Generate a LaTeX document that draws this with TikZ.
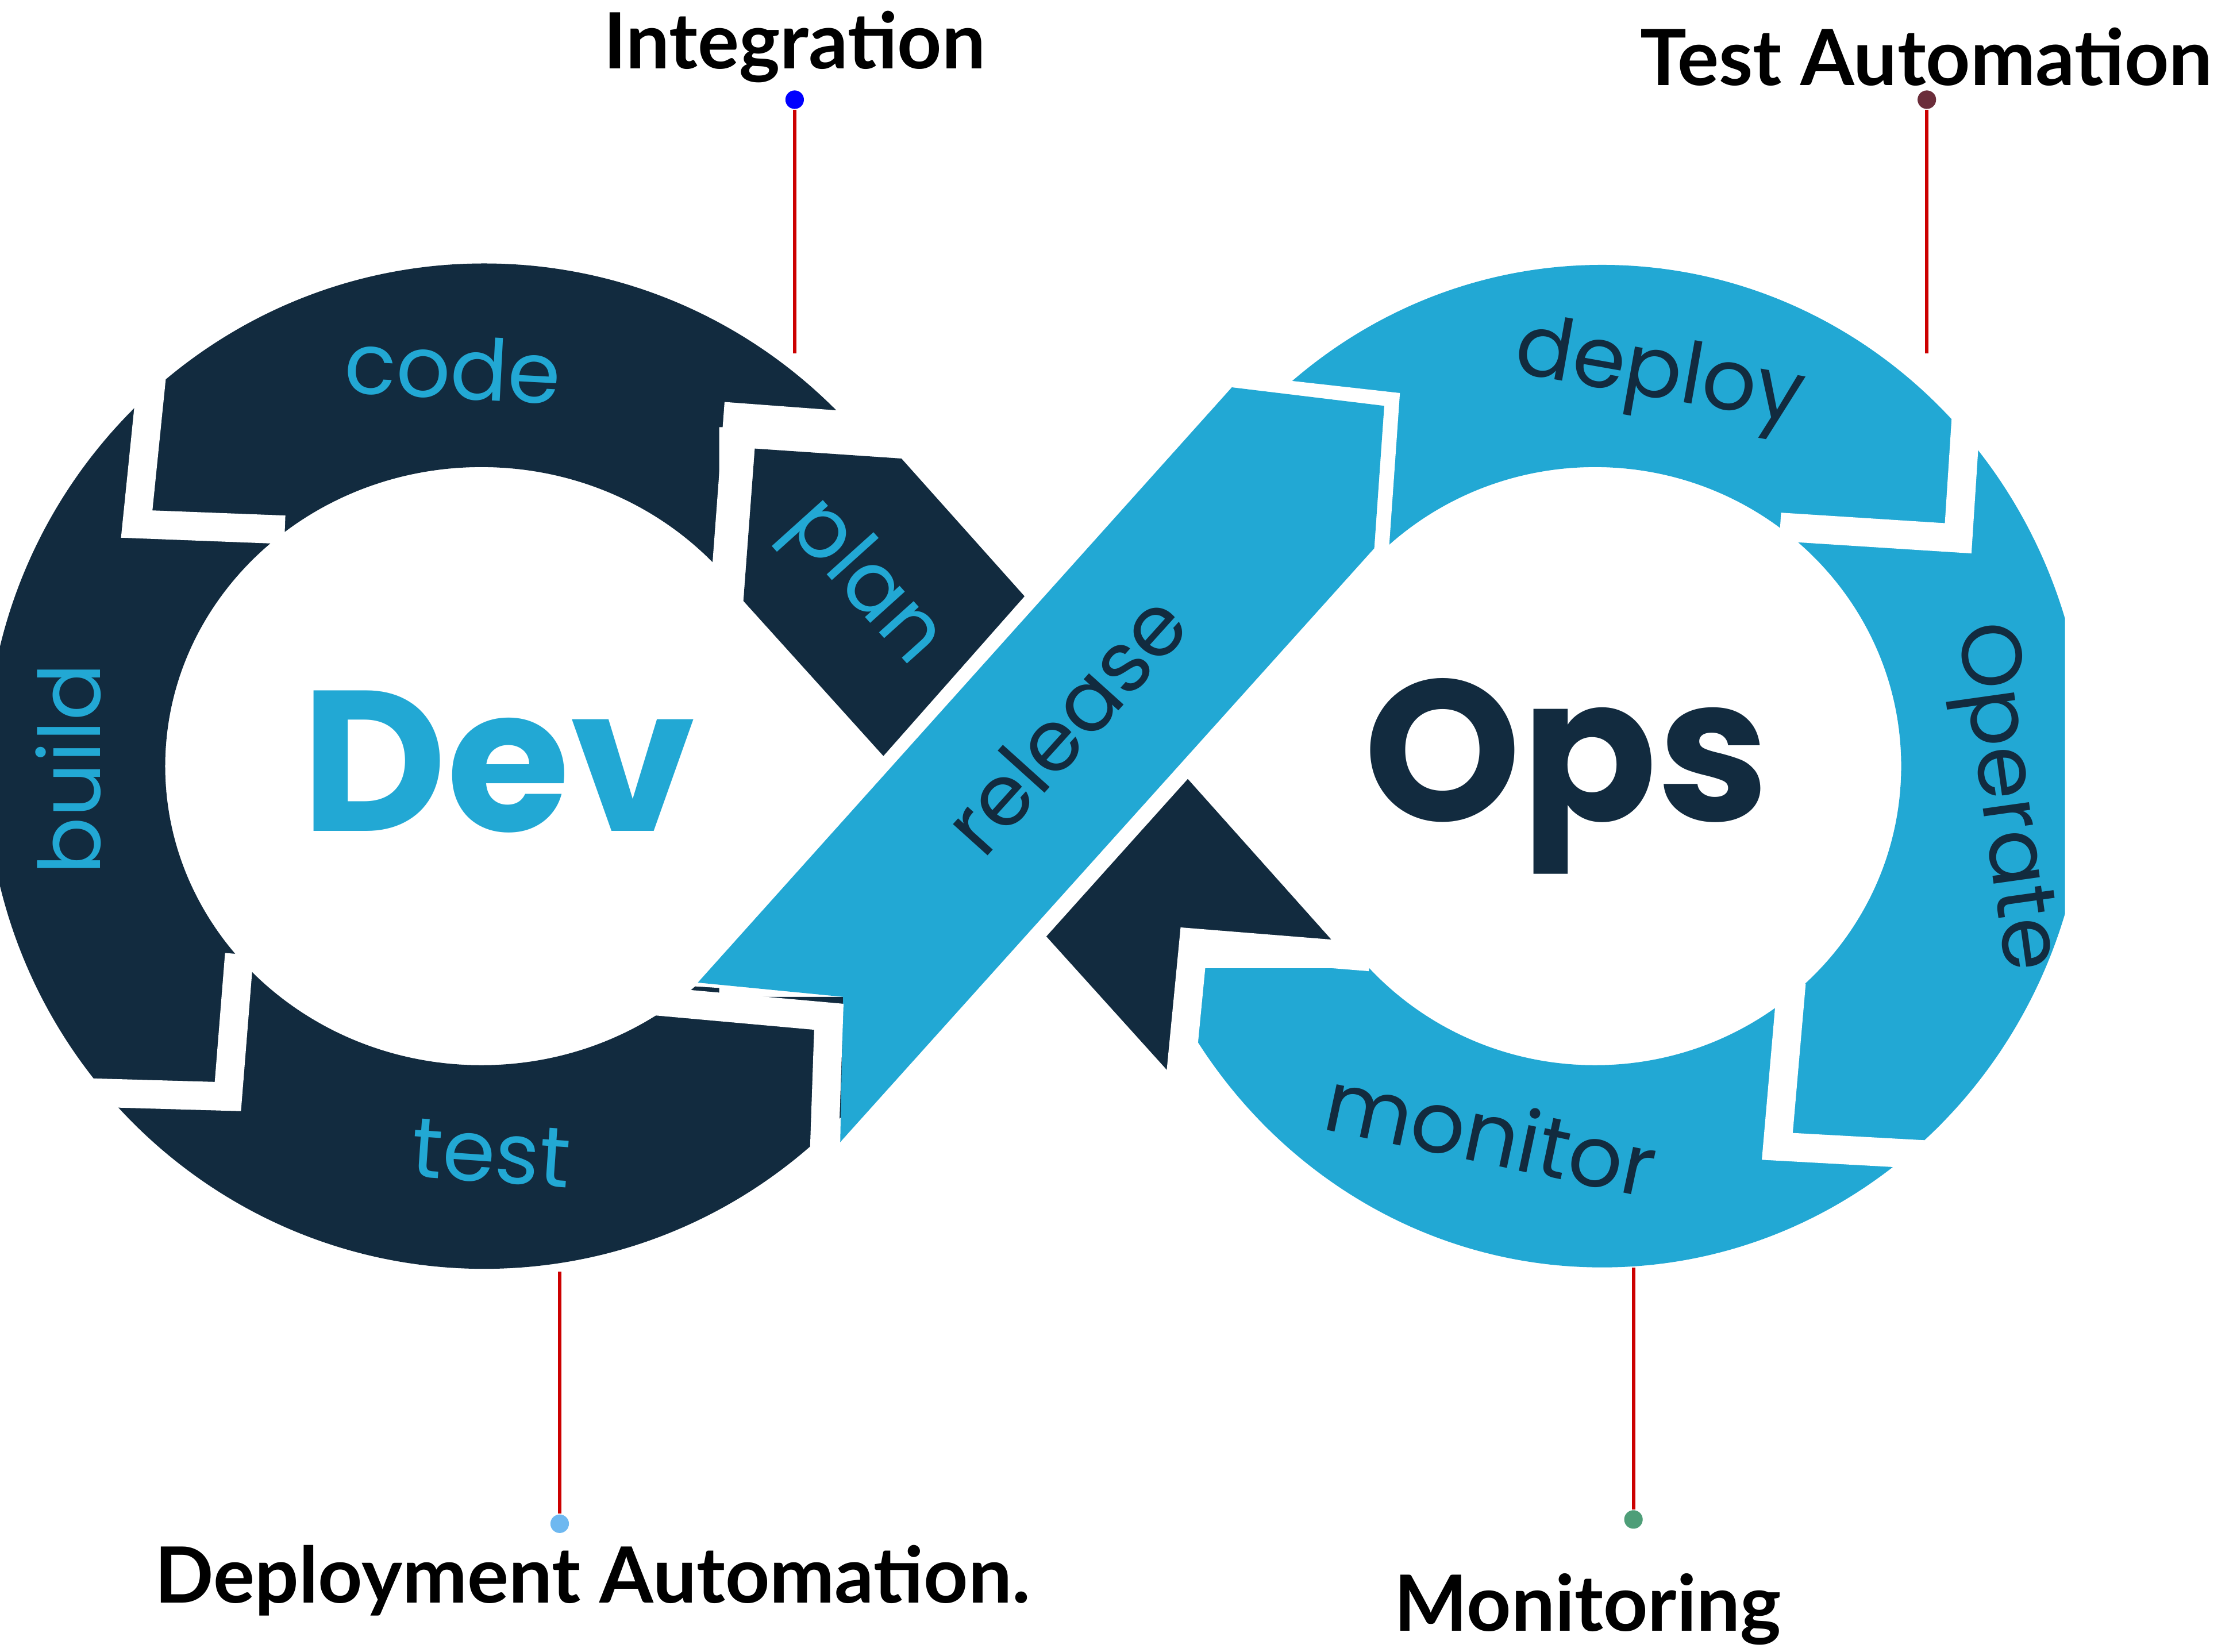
\documentclass[tikz,border=0pt]{standalone}
\usepackage{fontspec}
\setmainfont{Poppins}
\newfontfamily\lbl{Lato}
\definecolor{navy}{HTML}{122B3F}
\definecolor{cyanb}{HTML}{22A8D4}
\begin{document}
\begin{tikzpicture}[x=0.1mm,y=-0.1mm,
 gap/.style={white,line width=2mm,line join=miter},
 seg/.style={font=\fontsize{17}{17}\selectfont},
 pin/.style={red!80!black,line width=0.25mm},
 lab/.style={font=\lbl\bfseries\fontsize{15.5}{16}\selectfont}]
\useasboundingbox (0,0) rectangle (1568,1160);
\begin{scope}
\clip (0,0) rectangle (1450,1160);
% left ring
\begin{scope}
\clip (0,0) -- (612,0) -- (612,300) -- (505,300) -- (505,700) -- (600,700) -- (600,1160) -- (0,1160) -- cycle;
\fill[navy,even odd rule] (340,538) ellipse [x radius=35mm,y radius=35.3mm] (338,538) ellipse [x radius=22.2mm,y radius=21mm];
\end{scope}
% dark band
\fill[navy] (530,315) -- (633,322) -- (935,660) -- (830,652) -- (820,752) -- (522,422) -- cycle;
% right ring
\begin{scope}
\clip (880,0) -- (1568,0) -- (1568,1160) -- (838,1160) -- (838,680) -- (965,680) -- (965,380) -- (880,380) -- cycle;
\fill[cyanb,even odd rule] (1125,538) ellipse [x radius=34mm,y radius=35.2mm] (1120,538) ellipse [x radius=21.5mm,y radius=21mm];
\end{scope}
% white under cyan band
\fill[white] (478,692) -- (858,262) -- (983,276) -- (975,390) -- (596,812) -- (602,700) -- cycle;
% cyan band
\fill[cyanb] (490,690) -- (865,272) -- (972,285) -- (965,385) -- (590,802) -- (592,700) -- cycle;
% gaps
\draw[gap] (108,250) -- (96,368) -- (200,372);
\draw[gap] (20,766) -- (160,770) -- (168,670);
\draw[gap] (460,703) -- (582,714) -- (578,830);
\draw[gap] (612,300) -- (518,293) -- (510,400);
\draw[gap] (1250,370) -- (1375,378) -- (1382,270);
\draw[gap] (1258,690) -- (1248,805) -- (1375,812);
\draw[gap] (828,765) -- (838,662) -- (962,672);
\end{scope}
% texts on ring
\node[seg,cyanb,rotate=-3] (code) at (318,258) {code};
\node[seg,cyanb,rotate=-48] (plan) at (606,410) {plan};
\node[seg,cyanb,rotate=90] (build) at (48,540) {build};
\node[seg,cyanb,rotate=-4] (test) at (345,810) {test};
\node[seg,navy,rotate=48] (release) at (748,508) {release};
\node[seg,navy,rotate=-10] (deploy) at (1165,265) {deploy};
\node[seg,navy,rotate=-82] (operate) at (1405,560) {Operate};
\node[seg,navy,rotate=-12] (monitor) at (1047,795) {monitor};
\node[cyanb,font=\bfseries\fontsize{40}{40}\selectfont] (dev) at (350,535) {Dev};
\node[navy,font=\bfseries\fontsize{40}{40}\selectfont] (ops) at (1100,545) {Ops};
% pins
\coordinate (r1) at (558,248);
\coordinate (r2) at (1353,248);
\coordinate (r3) at (393,893);
\coordinate (r4) at (1147,890);
\node[circle,fill=blue,inner sep=0,minimum size=1.3mm] (d1) at (558,70) {};
\node[circle,fill={rgb,255:red,107;green,45;blue,58},inner sep=0,minimum size=1.3mm] (d2) at (1353,70) {};
\node[circle,fill={rgb,255:red,110;green,184;blue,240},inner sep=0,minimum size=1.3mm] (d3) at (393,1070) {};
\node[circle,fill={rgb,255:red,78;green,158;blue,120},inner sep=0,minimum size=1.3mm] (d4) at (1147,1067) {};
\draw[pin] (d1) -- (r1);
\draw[pin] (d2) -- (r2);
\draw[pin] (d3) -- (r3);
\draw[pin] (d4) -- (r4);
\node[lab] (l1) at (558,33) {Integration};
\node[lab,anchor=east] (l2) at (1566,40) {Test Automation};
\node[lab] (l3) at (416,1110) {Deployment Automation.};
\node[lab] (l4) at (1115,1130) {Monitoring};
\end{tikzpicture}
\end{document}
